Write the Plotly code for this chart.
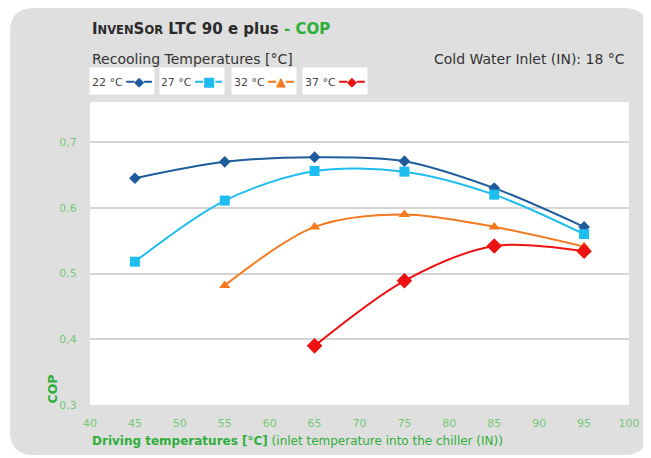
import plotly.graph_objects as go

# ---- data ----
driving_temps = [45, 55, 65, 75, 85, 95]
cop_22 = [0.645, 0.670, 0.677, 0.671, 0.630, 0.571]
temps_32 = [55, 65, 75, 85, 95]
temps_37 = [65, 75, 85, 95]
cop_27 = [0.518, 0.611, 0.656, 0.655, 0.620, 0.560]
cop_32 = [0.482, 0.571, 0.590, 0.571, 0.541]
cop_37 = [0.390, 0.489, 0.542, 0.534]
series_names = ["22 °C", "27 °C", "32 °C", "37 °C"]
x_ticks = list(range(40, 101, 5))
y_ticks = [0.3, 0.4, 0.5, 0.6, 0.7]

WIN_W, WIN_H = 651, 458
OFF = 8  # page body margin of the browser
L, R, T, B = 90, 629, 102, 405  # plot area in window pixels


def px(x):
    return (x - L) / (R - L)


def py(y):
    return (B - y) / (B - T)


colors = ["#1f5c9c", "#1ebdf0", "#f47a20", "#ee1111"]
symbols = ["diamond", "square", "triangle-up", "diamond"]
sizes = [9, 10, 10, 12]
glyphs = ["◆", "■", "▲", "◆"]

fig = go.Figure()
xs = [driving_temps, driving_temps, temps_32, temps_37]
ys = [cop_22, cop_27, cop_32, cop_37]
for i in range(4):
    fig.add_trace(go.Scatter(
        x=xs[i], y=ys[i], mode="lines+markers", name=series_names[i],
        line=dict(color=colors[i], width=2, shape="spline", smoothing=0.9),
        marker=dict(symbol=symbols[i], size=sizes[i], color=colors[i]),
        showlegend=False,
    ))

# background panel with rounded corners (gray), then white plot area
x0, x1, y0, y1, r = 10, 648, 8, 455, 24
X0, X1, Y0, Y1 = px(x0), px(x1), py(y0), py(y1)
rx, ry = r / (R - L), r / (B - T)
path = (f"M {X0+rx},{Y0} L {X1-rx},{Y0} Q {X1},{Y0} {X1},{Y0-ry} "
        f"L {X1},{Y1+ry} Q {X1},{Y1} {X1-rx},{Y1} L {X0+rx},{Y1} "
        f"Q {X0},{Y1} {X0},{Y1+ry} L {X0},{Y0-ry} Q {X0},{Y0} {X0+rx},{Y0} Z")
shapes = [
    dict(type="path", path=path, xref="paper", yref="paper",
         fillcolor="#dfdfdf", line=dict(width=0), layer="below"),
    dict(type="rect", x0=0, x1=1, y0=0, y1=1, xref="paper", yref="paper",
         fillcolor="white", line=dict(width=0), layer="below"),
]

green = "#2fae3a"
light_green = "#78c878"
font = "DejaVu Sans"
annotations = [
    dict(x=px(90), y=py(29), xref="paper", yref="paper", xanchor="left", yanchor="middle",
         showarrow=False,
         text=("<b>I<span style='font-size:11.5px'>NVEN</span>S<span style='font-size:11.5px'>OR</span>"
               f" LTC 90 e plus <span style='color:{green}'>- COP</span></b>"),
         font=dict(family=font, size=15, color="#2a2a2a")),
    dict(x=px(90), y=py(59), xref="paper", yref="paper", xanchor="left", yanchor="middle",
         showarrow=False, text="Recooling Temperatures [°C]",
         font=dict(family=font, size=14, color="#333333")),
    dict(x=px(627), y=py(59), xref="paper", yref="paper", xanchor="right", yanchor="middle",
         showarrow=False, text="Cold Water Inlet (IN): 18 °C",
         font=dict(family=font, size=14, color="#333333")),
    dict(x=px(90), y=py(441), xref="paper", yref="paper", xanchor="left", yanchor="middle",
         showarrow=False,
         text="<b>Driving temperatures [°C]</b> (inlet temperature into the chiller (IN))",
         font=dict(family=font, size=12, color=green)),
    dict(x=px(52), y=py(406), xref="paper", yref="paper", xanchor="center", yanchor="bottom",
         showarrow=False, textangle=-90, text="<b>COP</b>",
         font=dict(family=font, size=12.5, color=green)),
]

box_left = [89, 159, 231, 302]
for i in range(4):
    annotations.append(dict(
        x=px(box_left[i]), y=py(81), xref="paper", yref="paper",
        xanchor="left", yanchor="middle", showarrow=False,
        text=(f"{series_names[i]} <span style='color:{colors[i]};font-size:13px'>"
              f"━{glyphs[i]}━</span>"),
        font=dict(family=font, size=11, color="#444444"),
        bgcolor="white", width=60, height=22, borderpad=2, align="center",
    ))

fig.update_layout(
    width=WIN_W - OFF, height=WIN_H - OFF,
    margin=dict(l=L - OFF, r=WIN_W - R, t=T - OFF, b=WIN_H - B),
    paper_bgcolor="white", plot_bgcolor="rgba(0,0,0,0)",
    separators=",.",
    shapes=shapes, annotations=annotations,
    font=dict(family=font),
    xaxis=dict(range=[40, 100], tickvals=x_ticks, showgrid=False, zeroline=False,
               showline=False, ticks="outside", ticklen=8, tickcolor="rgba(0,0,0,0)",
               tickfont=dict(family=font, size=11, color=light_green)),
    yaxis=dict(range=[0.3, 0.761], tickvals=y_ticks, tickformat=".1f",
               showgrid=True, gridcolor="#d4d4d4", gridwidth=2, zeroline=False,
               showline=False, ticks="outside", ticklen=10, tickcolor="rgba(0,0,0,0)",
               tickfont=dict(family=font, size=11, color=light_green)),
)

fig.write_html("out.html")
